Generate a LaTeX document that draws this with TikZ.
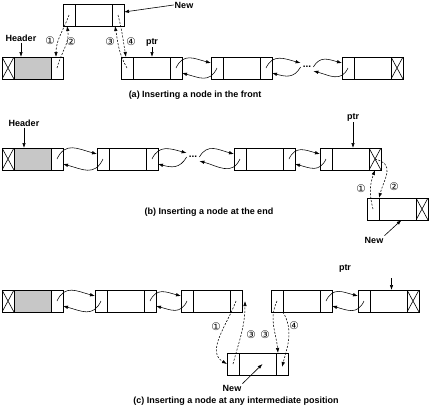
\documentclass[tikz,border=0pt]{standalone}
\usepackage{fontspec}
\setmainfont{Liberation Sans}
\newfontfamily\circfont{DejaVu Sans}
\usetikzlibrary{positioning, arrows.meta}

\begin{document}
\begin{tikzpicture}[
    x=1pt, y=-1pt,
    cell/.style={draw, line width=0.6pt, inner sep=0pt, outer sep=0pt, minimum width=12, minimum height=22, anchor=north west},
    mid/.style={cell, minimum width=37},
    hdr/.style={mid, fill=black!22},
    xcell/.style={cell, path picture={\draw[line width=0.6pt] (path picture bounding box.north west) -- (path picture bounding box.south east) (path picture bounding box.north east) -- (path picture bounding box.south west);}},
    lbl/.style={font=\fontsize{9}{10}\selectfont\bfseries, inner sep=1pt},
    num/.style={font=\circfont\fontsize{10.5}{10.5}\selectfont, inner sep=0pt},
    dotlbl/.style={font=\fontsize{10}{10}\selectfont\bfseries, inner xsep=2pt, inner ysep=0pt},
    link/.style={-{Latex[length=5pt, width=3.5pt]}, line width=0.55pt},
    ins/.style={link, dash pattern=on 2pt off 1.5pt},
    ptr/.style={-{Latex[length=5pt, width=3.5pt]}, line width=0.6pt}
]
\useasboundingbox (0,0) rectangle (429,408);

% list nodes: name/x/y/left/middle/right
\foreach \n/\x/\y/\lc/\mc/\rc in {
    ha/2/57/xcell/hdr/cell, na/63/4/cell/mid/cell, pa/121/57/cell/mid/cell,
    a3/211/57/cell/mid/cell, a4/342/57/cell/mid/xcell,
    hb/2/148/xcell/hdr/cell, b2/97/148/cell/mid/cell, b3/234/148/cell/mid/cell,
    b4/320/148/cell/mid/xcell, nb/367/198/cell/mid/xcell,
    hc/2/290/xcell/hdr/cell, c2/95/290/cell/mid/cell, c3/181/290/cell/mid/cell,
    c4/271/290/cell/mid/cell, c5/358/290/cell/mid/xcell, nc/227/353/cell/mid/cell} {
    \node[\lc] (\n-l) at (\x,\y) {};
    \node[\mc, right=0pt of \n-l] (\n-m) {};
    \node[\rc, right=0pt of \n-m] (\n-r) {};
}

% dots
\node[dotlbl] (da) at (307,67) {...};
\node[dotlbl] (db) at (193,157) {...};

% links between nodes
\foreach \a/\b in {pa/a3, hb/b2, b3/b4, hc/c2, c2/c3, c4/c5} {
    \draw[link] (\a-r.center) to[out=65, in=165, looseness=1.25] ([yshift=5pt]\b-l.west);
    \draw[link] (\b-l.center) to[out=-115, in=-15, looseness=1.25] ([yshift=-5pt]\a-r.east);
}
\foreach \a/\d/\b in {a3/da/a4, b2/db/b3} {
    \draw[link] (\a-r.center) to[out=65, in=165, looseness=1.2] ([yshift=4pt]\d.west);
    \draw[link] (\d.east) to[out=60, in=165, looseness=1.2] ([yshift=5pt]\b-l.west);
    \draw[link] (\b-l.center) to[out=-115, in=-15, looseness=1.2] ([yshift=-4pt]\d.east);
    \draw[link] (\d.west) to[out=-120, in=-15, looseness=1.2] ([yshift=-5pt]\a-r.east);
}

% (a) front
\node[lbl] (hdra) at (21,38) {Header};
\draw[ptr] (hdra.south) -- (hdra.south |- ha-m.north);
\node[lbl] (ptra) at (152,42) {ptr};
\draw[ptr] (ptra.south) -- (ptra.south |- pa-m.north);
\node[lbl] (newa) at (184,5) {New};
\draw[ptr] (newa.west) -- ([yshift=3pt]na-r.east);
\draw[ins] (na-l.center) to[out=-110, in=90] ([xshift=-1pt]ha-r.north);
\draw[ins] (ha-r.center) to[out=75, in=-80] ([xshift=-2pt]na-l.south);
\draw[ins] (pa-l.center) to[out=120, in=-80] ([xshift=-3pt]na-r.south);
\draw[ins] (na-r.center) to[out=-75, in=100] ([xshift=-1pt]pa-l.north);
\node[num] (a1) at (50,41) {①};
\node[num] (a2) at (71,42) {②};
\node[num] (a3n) at (110,42) {③};
\node[num] (a4n) at (131,42) {④};
\node[lbl] (capa) at (195,95) {(a) Inserting a node in the front};

% (b) end
\node[lbl] (hdrb) at (24,123) {Header};
\draw[ptr] (hdrb.south) -- (hdrb.south |- hb-m.north);
\node[lbl] (ptrb) at (353,117) {ptr};
\draw[ptr] (ptrb.south) -- (ptrb.south |- b4-m.north);
\node[lbl] (newb) at (374,240) {New};
\draw[ptr] (newb.north east) -- ([xshift=4pt]nb-m.south);
\draw[ins] (nb-l.center) to[out=105, in=-110] (b4-r.south);
\draw[ins] (b4-r.center) to[out=-15, in=75, looseness=1.4] (nb-l.north east);
\node[num] (b1) at (361,189) {①};
\node[num] (b2n) at (394,187) {②};
\node[lbl] (capb) at (209,212) {(b) Inserting a node at the end};

% (c) intermediate
\node[lbl] (ptrc) at (345,268) {ptr};
\coordinate (ptrc-top) at ([xshift=3pt, yshift=12pt]c5-m.north);
\draw[ptr] (ptrc-top) -- ([xshift=3pt]c5-m.north);
\node[lbl] (newc) at (232,388) {New};
\draw[ptr] (newc.north east) -- ([xshift=5pt]nc-m.center);
\draw[ins] (c3-r.center) to[out=-110, in=150] (nc-l.west);
\draw[ins] (nc-l.center) to[out=75, in=-90] ([xshift=3pt]c3-r.east);
\draw[ins] (c4-l.center) to[out=-115, in=95] ([xshift=2pt]nc-r.north west);
\draw[ins] (c4-l.south east) to[out=-60, in=75] ([yshift=-3pt]nc-r.center);
\node[num] (c1) at (216,327) {①};
\node[num] (c2n) at (251,335) {③};
\node[num] (c3n) at (265,335) {③};
\node[num] (c4n) at (294,326) {④};
\node[lbl] (capc) at (236,401) {(c) Inserting a node at any intermediate position};

\end{tikzpicture}
\end{document}
